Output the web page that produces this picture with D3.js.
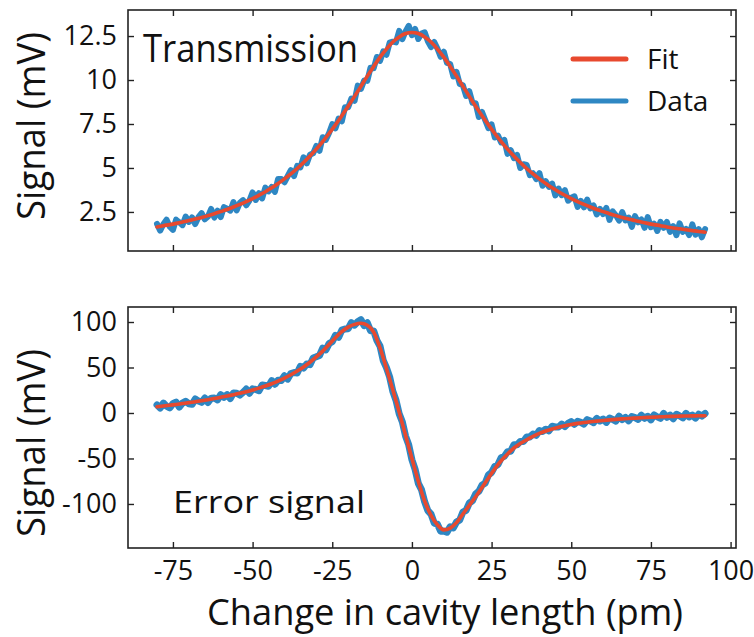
<!DOCTYPE html>
<html>
<head>
<meta charset="utf-8">
<script src="https://cdn.jsdelivr.net/npm/d3@7/dist/d3.min.js"></script>
<style>
  html, body { margin: 0; padding: 0; background: #fff; }
  svg { display: block; }
  text { font-family: "Open Sans", "Noto Sans", sans-serif; fill: #111; }
</style>
</head>
<body>
<svg id="chart" width="754" height="637"></svg>
<script>
// Cavity scan: change in cavity length (pm) for every recorded sample
const scanPm = [
  -80,-79,-78,-77,-76,-75,-74,-73,-72,-71,-70,-69,-68,-67,-66,-65,-64,-63,-62,-61,
  -60,-59,-58,-57,-56,-55,-54,-53,-52,-51,-50,-49,-48,-47,-46,-45,-44,-43,-42,-41,
  -40,-39,-38,-37,-36,-35,-34,-33,-32,-31,-30,-29,-28,-27,-26,-25,-24,-23,-22,-21,
  -20,-19,-18,-17,-16,-15,-14,-13,-12,-11,-10,-9,-8,-7,-6,-5,-4,-3,-2,-1,
  0,1,2,3,4,5,6,7,8,9,10,11,12,13,14,15,16,17,18,19,
  20,21,22,23,24,25,26,27,28,29,30,31,32,33,34,35,36,37,38,39,
  40,41,42,43,44,45,46,47,48,49,50,51,52,53,54,55,56,57,58,59,
  60,61,62,63,64,65,66,67,68,69,70,71,72,73,74,75,76,77,78,79,
  80,81,82,83,84,85,86,87,88,89,90,91,92
];

// Measured transmission (mV)
const transData = [
  1.82,1.44,1.80,2.06,1.66,1.48,2.06,1.91,1.75,2.24,
  1.93,2.19,1.81,2.20,2.43,2.08,2.24,2.67,2.18,2.57,
  2.21,2.77,2.68,2.57,3.06,2.59,3.02,3.17,2.88,3.15,
  3.61,3.18,3.57,3.27,3.88,3.67,3.92,3.64,4.38,4.38,
  4.19,4.53,4.88,4.54,5.12,5.03,5.61,5.26,5.75,5.83,
  6.25,5.98,6.75,6.60,6.99,7.49,7.25,7.81,7.65,8.45,
  8.45,8.95,8.82,9.68,9.50,9.97,9.95,10.70,10.67,11.31,
  11.09,11.63,11.43,12.12,12.18,12.14,12.79,12.32,12.76,13.08,
  12.55,12.90,12.33,12.64,12.71,12.20,11.87,12.16,11.79,11.32,
  11.61,10.97,10.91,10.20,10.46,9.77,9.70,9.09,9.36,8.70,
  8.68,7.90,8.18,7.72,7.26,7.48,6.73,6.84,6.45,6.60,
  5.80,6.01,5.56,5.74,5.00,5.21,5.17,4.59,4.70,4.37,
  4.71,3.99,4.25,3.93,4.11,3.44,3.83,3.45,3.74,3.14,
  3.31,3.39,2.79,3.13,2.76,3.20,2.70,2.87,2.36,2.67,
  2.38,2.73,2.05,2.53,2.31,2.01,2.49,2.02,2.18,1.65,
  2.26,1.91,2.07,1.60,2.21,1.63,1.83,1.42,1.94,1.59,
  1.93,1.37,1.70,1.18,1.85,1.37,1.53,1.19,1.79,1.21,
  1.52,1.06,1.53
];

// Measured error signal (mV)
const errData = [
  8.9,5.4,10.9,7.4,5.6,10.2,12.0,6.5,10.8,12.8,
  10.1,9.5,15.4,13.1,11.7,16.4,11.5,16.3,16.4,14.4,
  20.1,17.1,20.2,15.8,22.1,21.7,19.7,22.6,26.3,21.7,
  26.5,25.9,24.5,30.7,30.2,29.4,35.6,31.6,36.0,35.7,
  40.9,37.2,43.4,44.4,44.0,51.3,49.4,53.9,53.1,60.5,
  61.8,63.2,71.2,69.3,76.3,78.3,85.4,83.3,91.1,92.4,
  92.6,99.3,96.6,100.3,102.6,96.1,99.1,90.5,90.2,79.8,
  73.4,57.7,49.8,39.7,23.9,14.0,-0.9,-10.0,-25.4,-35.1,
  -51.4,-62.0,-77.3,-84.2,-97.6,-107.3,-111.2,-121.0,-122.1,-129.9,
  -129.7,-131.1,-125.0,-126.3,-119.8,-117.7,-108.9,-107.1,-99.1,-96.5,
  -88.9,-86.1,-79.4,-77.0,-68.1,-65.3,-58.7,-56.6,-49.2,-47.7,
  -42.5,-42.1,-34.9,-35.0,-31.3,-31.4,-26.5,-26.3,-23.1,-24.6,
  -19.3,-20.4,-17.8,-19.6,-14.6,-15.3,-15.4,-12.2,-15.0,-11.4,
  -9.5,-12.4,-9.1,-10.3,-12.2,-7.3,-8.7,-10.6,-5.9,-8.8,
  -6.6,-10.3,-5.5,-7.0,-8.9,-3.5,-7.2,-4.9,-8.6,-3.8,
  -5.1,-7.0,-2.4,-5.9,-3.6,-7.6,-2.1,-4.3,-5.9,-0.5,
  -4.7,-2.3,-6.4,-1.4,-3.1,-5.4,-0.4,-4.4,-2.3,-5.6,
  -1.3,-3.4,-0.5
];

// Fit curves, sampled every 2 pm
const fitPm = [
  -80,-78,-76,-74,-72,-70,-68,-66,-64,-62,-60,-58,-56,-54,-52,-50,-48,-46,-44,-42,
  -40,-38,-36,-34,-32,-30,-28,-26,-24,-22,-20,-18,-16,-14,-12,-10,-8,-6,-4,-2,
  0,2,4,6,8,10,12,14,16,18,20,22,24,26,28,30,32,34,36,38,
  40,42,44,46,48,50,52,54,56,58,60,62,64,66,68,70,72,74,76,78,
  80,82,84,86,88,90,92
];

const transFit = [
  1.65,1.72,1.78,1.85,1.93,2.01,2.10,2.19,2.29,2.40,
  2.52,2.64,2.78,2.93,3.09,3.26,3.45,3.65,3.87,4.12,
  4.38,4.66,4.97,5.31,5.68,6.07,6.50,6.96,7.45,7.97,
  8.51,9.07,9.64,10.22,10.77,11.30,11.76,12.16,12.45,12.64,
  12.70,12.64,12.45,12.16,11.76,11.30,10.77,10.22,9.64,9.07,
  8.51,7.97,7.45,6.96,6.50,6.07,5.68,5.31,4.97,4.66,
  4.38,4.12,3.87,3.65,3.45,3.26,3.09,2.93,2.78,2.64,
  2.52,2.40,2.29,2.19,2.10,2.01,1.93,1.85,1.78,1.72,
  1.65,1.59,1.54,1.49,1.44,1.39,1.35
];

const errFit = [
  6.8,7.6,8.5,9.4,10.4,11.4,12.3,13.4,14.6,15.9,
  17.3,18.7,20.1,21.6,23.3,25.2,27.3,29.6,32.1,35.1,
  38.4,42.0,46.1,50.6,55.8,61.6,68.0,75.2,82.8,89.5,
  94.4,97.4,98.6,96.4,89.0,71.5,49.0,25.5,1.2,-24.5,
  -50.0,-75.0,-97.0,-112.5,-123.0,-128.5,-126.5,-120.5,-111.0,-101.5,
  -92.0,-82.0,-71.5,-61.5,-52.5,-45.0,-38.5,-33.5,-29.5,-25.8,
  -22.5,-19.8,-17.5,-15.6,-14.0,-12.6,-11.4,-10.4,-9.6,-8.9,
  -8.2,-7.6,-7.0,-6.5,-6.0,-5.6,-5.2,-4.8,-4.5,-4.2,
  -3.9,-3.7,-3.5,-3.3,-3.2,-3.1,-3.0
];

// Axis ticks and labels
const xTicks = [-75, -50, -25, 0, 25, 50, 75, 100];
const transTicks = [2.5, 5, 7.5, 10, 12.5];
const errTicks = [-100, -50, 0, 50, 100];
const seriesNames = ["Fit", "Data"];

const FIT_COLOR = "#e8492e";
const DATA_COLOR = "#2e87c3";

const svg = d3.select("#chart");
const plainNumber = d => String(d);

const frameLeft = 128, frameRight = 736;
const x = d3.scaleLinear().domain([-89.1, 101.7]).range([frameLeft, frameRight]);

const panels = [
  { top: 10, bottom: 251, domain: [0.28, 13.98], ticks: transTicks,
    data: transData, fit: transFit, dataWidth: 6, titleY: 126 },
  { top: 307, bottom: 548, domain: [-148.4, 116.5], ticks: errTicks,
    data: errData, fit: errFit, dataWidth: 7, titleY: 443 }
];

panels.forEach((p, i) => {
  const y = d3.scaleLinear().domain(p.domain).range([p.bottom, p.top]);
  const g = svg.append("g");
  const tickLen = -6;

  // data band then fit curve
  const dataLine = d3.line().x((d, k) => x(scanPm[k])).y(d => y(d));
  g.append("path").datum(p.data)
    .attr("d", dataLine)
    .attr("fill", "none")
    .attr("stroke", DATA_COLOR)
    .attr("stroke-width", p.dataWidth)
    .attr("stroke-linejoin", "round")
    .attr("stroke-linecap", "round");

  const fitLine = d3.line().x((d, k) => x(fitPm[k])).y(d => y(d)).curve(d3.curveMonotoneX);
  g.append("path").datum(p.fit)
    .attr("d", fitLine)
    .attr("fill", "none")
    .attr("stroke", FIT_COLOR)
    .attr("stroke-width", 3.6)
    .attr("stroke-linecap", "round");

  // inward ticks on all four sides
  const bottomAxis = d3.axisBottom(x).tickValues(xTicks).tickSize(tickLen).tickPadding(13)
    .tickFormat(i === 0 ? "" : plainNumber);
  g.append("g").attr("transform", `translate(0,${p.bottom})`).call(bottomAxis);
  g.append("g").attr("transform", `translate(0,${p.top})`)
    .call(d3.axisTop(x).tickValues(xTicks).tickSize(tickLen).tickFormat(""));
  g.append("g").attr("transform", `translate(${frameLeft},0)`)
    .call(d3.axisLeft(y).tickValues(p.ticks).tickSize(tickLen).tickPadding(11).tickFormat(plainNumber));
  g.append("g").attr("transform", `translate(${frameRight},0)`)
    .call(d3.axisRight(y).tickValues(p.ticks).tickSize(tickLen).tickFormat(""));

  g.selectAll(".domain").remove();
  g.selectAll(".tick line").attr("stroke", "#222").attr("stroke-width", 1.4);
  g.selectAll(".tick text").attr("font-size", 27).attr("fill", "#111")
    .attr("font-family", '"Open Sans", sans-serif');

  g.append("rect")
    .attr("x", frameLeft).attr("y", p.top)
    .attr("width", frameRight - frameLeft).attr("height", p.bottom - p.top)
    .attr("fill", "none").attr("stroke", "#222").attr("stroke-width", 1.6);

  // y axis title
  svg.append("text")
    .attr("transform", `translate(45,${p.titleY}) rotate(-90)`)
    .attr("text-anchor", "middle")
    .attr("font-size", 38)
    .attr("textLength", 188)
    .attr("lengthAdjust", "spacingAndGlyphs")
    .text("Signal (mV)");
});

// panel captions
svg.append("text").attr("x", 143).attr("y", 62)
  .attr("font-size", 38).attr("textLength", 215).attr("lengthAdjust", "spacingAndGlyphs")
  .text("Transmission");
svg.append("text").attr("x", 173).attr("y", 513)
  .attr("font-size", 31).attr("textLength", 192).attr("lengthAdjust", "spacingAndGlyphs")
  .text("Error signal");

// x axis title
svg.append("text").attr("x", 207).attr("y", 625)
  .attr("font-size", 37).attr("textLength", 476).attr("lengthAdjust", "spacingAndGlyphs")
  .text("Change in cavity length (pm)");

// legend
const legend = svg.append("g");
const legendColors = [FIT_COLOR, DATA_COLOR];
seriesNames.forEach((name, k) => {
  const ly = 59 + k * 42;
  legend.append("line")
    .attr("x1", 573).attr("x2", 626).attr("y1", ly).attr("y2", ly)
    .attr("stroke", legendColors[k]).attr("stroke-width", 5).attr("stroke-linecap", "round");
  legend.append("text").attr("x", 647).attr("y", ly + 10)
    .attr("font-size", 28).text(name);
});
</script>
</body>
</html>
